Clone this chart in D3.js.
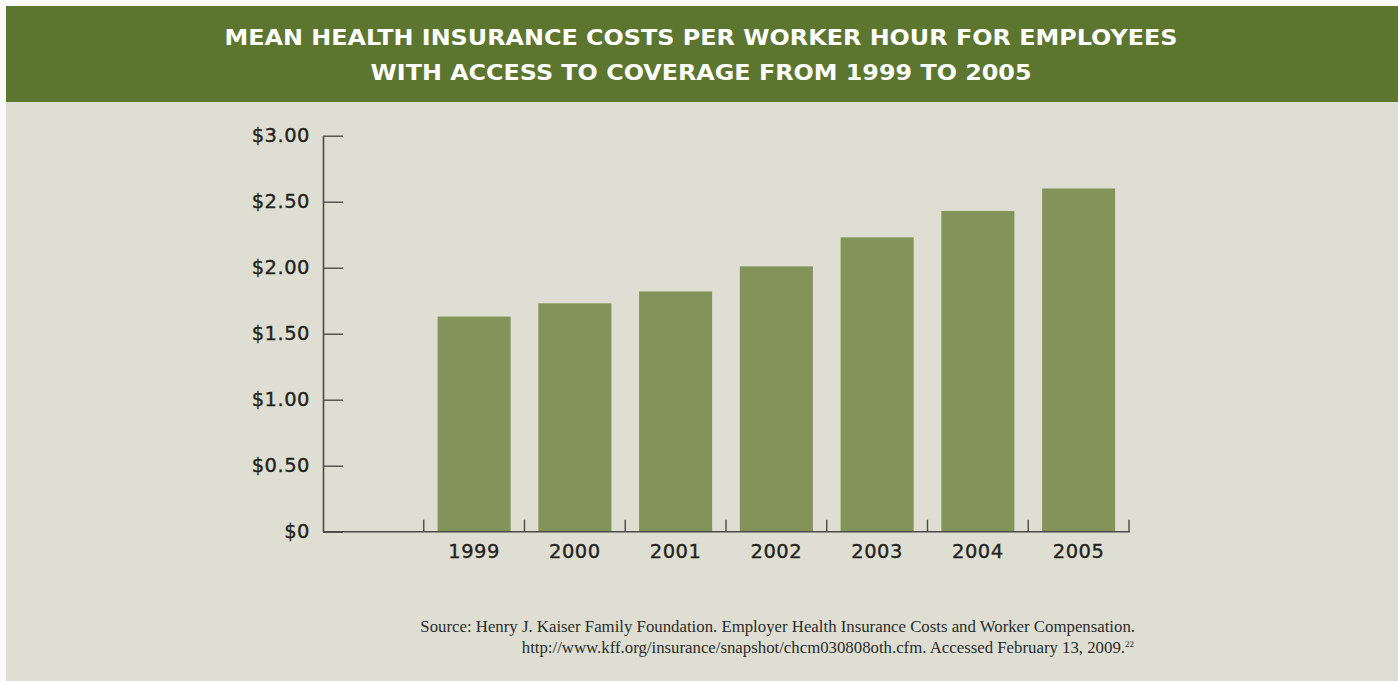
<html lang="en">
<head>
	<meta charset="utf-8">
	<script src="https://cdn.jsdelivr.net/npm/d3@7"></script>
	<style>
		body { margin: 0; background: #fafafa; }
		svg { display: block; }
	</style>
</head>
<body>
	<script type="text/javascript">
		var w = 1398;
		var h = 681;

		// data
		var years = ["1999", "2000", "2001", "2002", "2003", "2004", "2005"];
		var costs = [1.63, 1.73, 1.82, 2.01, 2.23, 2.43, 2.60];
		var yTicks = [0, 0.5, 1, 1.5, 2, 2.5, 3];
		var yTickLabels = ["$0", "$0.50", "$1.00", "$1.50", "$2.00", "$2.50", "$3.00"];
		var titleLines = ["MEAN HEALTH INSURANCE COSTS PER WORKER HOUR FOR EMPLOYEES",
		                  "WITH ACCESS TO COVERAGE FROM 1999 TO 2005"];
		var sourceLine1 = "Source: Henry J. Kaiser Family Foundation. Employer Health Insurance Costs and Worker Compensation.";
		var sourceLine2 = "http://www.kff.org/insurance/snapshot/chcm030808oth.cfm. Accessed February 13, 2009.";
		var sourceNote = "22";

		var svg = d3.select("body")
				.append("svg")
				.attr("width", w)
				.attr("height", h);

		// panel + header band
		svg.append("rect")
			.attr("x", 6).attr("y", 6)
			.attr("width", w - 6).attr("height", h - 6)
			.style("fill", "#dedfd2");
		svg.append("rect")
			.attr("x", 6).attr("y", 6)
			.attr("width", w - 6).attr("height", 96)
			.style("fill", "#5c752f");

		var titleWidths = [953, 661];
		svg.selectAll("text.title")
			.data(titleLines)
			.enter()
			.append("text")
			.attr("class", "title")
			.attr("x", 701)
			.attr("y", function(d, i){ return 45 + i * 35; })
			.attr("text-anchor", "middle")
			.attr("textLength", function(d, i){ return titleWidths[i]; })
			.attr("lengthAdjust", "spacingAndGlyphs")
			.style("font-family", "'DejaVu Sans', sans-serif")
			.style("font-weight", "bold")
			.style("font-size", "20.5px")
			.style("fill", "#ffffff")
			.text(function(d){ return d; });

		// scales
		var x = d3.scaleBand()
				.domain([""].concat(years)) // first slot stays empty
				.range([323, 1129])
				.padding(0);
		var y = d3.scaleLinear()
				.domain([0, 3])
				.range([531.7, 135.7]);

		var barW = x.bandwidth() * 0.725;
		svg.selectAll("rect.bar")
			.data(costs)
			.enter()
			.append("rect")
			.attr("class", "bar")
			.attr("x", function(d, i){ return x(years[i]) + (x.bandwidth() - barW) / 2; })
			.attr("y", function(d){ return y(d); })
			.attr("width", barW)
			.attr("height", function(d){ return y(0) - y(d); })
			.style("fill", "#84935a");

		// labels are a medium weight in the original: regular face + thin stroke
		function labelStyle(sel){
			sel.style("font-family", "'DejaVu Sans', sans-serif")
				.style("font-size", "19.5px")
				.style("letter-spacing", "0.5px")
				.style("fill", "#231f20")
				.style("stroke", "#231f20")
				.style("stroke-width", "0.35px");
		}

		// y axis
		var yAxis = d3.axisLeft(y)
				.tickValues(yTicks)
				.tickFormat(function(d, i){ return yTickLabels[i]; })
				.tickSizeInner(-20)
				.tickSizeOuter(0)
				.tickPadding(13);
		var gy = svg.append("g")
				.attr("transform", "translate(323,0)")
				.call(yAxis);
		gy.select(".domain").attr("stroke", "#4a4a48").attr("stroke-width", 1.6);
		gy.selectAll(".tick line").attr("stroke", "#4a4a48").attr("stroke-width", 1.4);
		gy.selectAll(".tick text").call(labelStyle);

		// x axis: baseline, upward ticks at band edges, centred year labels
		var gx = svg.append("g");
		gx.append("line")
			.attr("x1", x.range()[0]).attr("x2", x.range()[1] + 1)
			.attr("y1", y(0)).attr("y2", y(0))
			.attr("stroke", "#4a4a48").attr("stroke-width", 1.6);
		var edges = years.map(function(d){ return x(d); }).concat([x.range()[1]]);
		gx.selectAll("line.xt")
			.data(edges)
			.enter()
			.append("line")
			.attr("class", "xt")
			.attr("x1", function(d){ return d; }).attr("x2", function(d){ return d; })
			.attr("y1", y(0)).attr("y2", y(0) - 12)
			.attr("stroke", "#4a4a48").attr("stroke-width", 1.4);
		gx.selectAll("text")
			.data(years)
			.enter()
			.append("text")
			.attr("x", function(d){ return x(d) + x.bandwidth() / 2; })
			.attr("y", 558)
			.attr("text-anchor", "middle")
			.call(labelStyle)
			.text(function(d){ return d; });

		// source note
		var src = svg.append("g")
				.style("font-family", "'Liberation Serif', serif")
				.style("font-size", "16.8px")
				.style("fill", "#2b2b2b");
		src.append("text")
			.attr("x", 1135).attr("y", 632)
			.attr("text-anchor", "end")
			.text(sourceLine1);
		var t2 = src.append("text")
			.attr("x", 1134).attr("y", 653)
			.attr("text-anchor", "end");
		t2.append("tspan").text(sourceLine2);
		t2.append("tspan")
			.attr("dy", -6)
			.style("font-size", "9px")
			.text(sourceNote);
	</script>
</body>
</html>
